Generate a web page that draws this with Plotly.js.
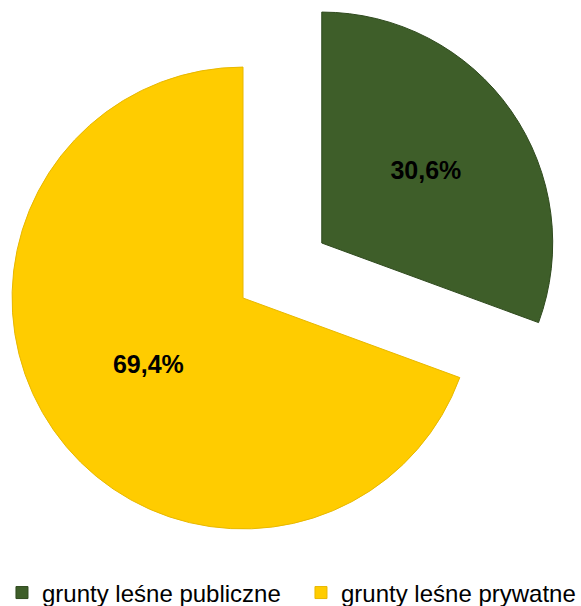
<!DOCTYPE html>
<html>
<head>
<meta charset="utf-8">
<script src="https://cdn.plot.ly/plotly-3.0.1.min.js"></script>
<style>
html,body{margin:0;padding:0;width:581px;height:606px;overflow:hidden;background:#fff;}
#wrap{position:relative;width:581px;height:606px;overflow:hidden;}
#chart{position:absolute;left:-207px;top:-29px;width:900px;height:654px;}
</style>
</head>
<body>
<div id="wrap"><div id="chart"></div></div>
<script>
const categories = ['grunty leśne publiczne', 'grunty leśne prywatne'];
const shares = [30.6, 69.4];
const sliceColors = ['#3E5E29', '#FFCC00'];
const pulls = [0.416, 0];

const trace = {
  type: 'pie',
  labels: categories,
  values: shares,
  sort: false,
  direction: 'clockwise',
  rotation: 0,
  pull: pulls,
  marker: {colors: sliceColors, line: {color: ['#2F4A1E', '#E8B800'], width: 1}},
  textinfo: 'percent',
  textposition: 'inside',
  insidetextorientation: 'horizontal',
  textfont: {family: '"Liberation Sans", Arial, sans-serif', size: 25, color: '#000', weight: 'bold'},
  hoverinfo: 'label+percent'
};

const layout = {
  width: 900, height: 654,
  margin: {l: 0, r: 0, t: 0, b: 0},
  paper_bgcolor: '#fff',
  separators: ', ',
  showlegend: true,
  legend: {
    orientation: 'h',
    x: 0.2322, xanchor: 'left',
    y: 0.049, yanchor: 'middle',
    font: {family: '"Liberation Sans", Arial, sans-serif', size: 24, color: '#000'},
    entrywidth: 254,
    itemclick: false
  }
};

Plotly.newPlot('chart', [trace], layout, {displayModeBar: false, staticPlot: true});
</script>
</body>
</html>
